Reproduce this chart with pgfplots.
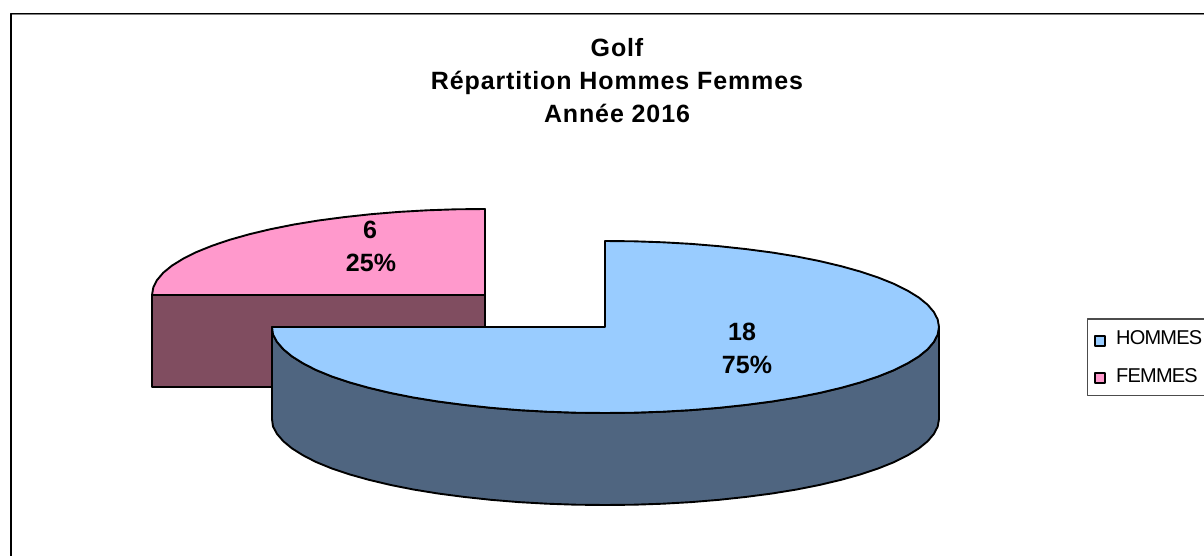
\documentclass[border=0pt]{standalone}
\usepackage{fontspec}
\setmainfont{Liberation Sans}
\usepackage{pgfplots}
\pgfplotsset{compat=1.18}
\definecolor{hommesTop}{HTML}{99CCFF}
\definecolor{hommesSide}{HTML}{4F6580}
\definecolor{femmesTop}{HTML}{FF99CC}
\definecolor{femmesSide}{HTML}{804D60}
\definecolor{frameGray}{HTML}{808080}
\begin{document}
\begin{tikzpicture}
\begin{axis}[
  scale only axis, width=1204pt, height=556pt,
  xmin=0, xmax=1204, ymin=0, ymax=556, y dir=reverse,
  hide axis, clip=true,
  every axis plot/.append style={line join=round},
]
% page background (also fixes the bounding box)
\addplot[fill=white, draw=none] coordinates {(0,0) (1204,0) (1204,556) (0,556)} -- cycle;
% frame
\addplot[draw=frameGray, line width=1pt] coordinates {(10.2,570) (10.2,14.8) (1220,14.8)};
\addplot[draw=black, line width=1.5pt] coordinates {(11.2,570) (11.2,13.5) (1220,13.5)};
% FEMMES side
\addplot[fill=femmesSide, draw=black, line width=1.9pt] coordinates {
 (152,295) (485,295) (485,387) (152,387)} -- cycle;
% FEMMES top
\addplot[fill=femmesTop, draw=black, line width=1.9pt] coordinates {
 (485,295) (485,209) (456,209.3) (427.2,210.3) (398.9,211.9) (371.1,214.2) (344.3,217.1)
 (318.5,220.5) (294,224.5) (270.9,229.1) (249.5,234.2) (230,239.7) (212.2,245.7)
 (196.6,252) (183.2,258.7) (172,265.6) (163.3,272.7) (157,280.1) (153.3,287.5) (152,295)} -- cycle;
% HOMMES side
\addplot[fill=hommesSide, draw=black, line width=1.9pt] coordinates {
 (939,327) (937.7,334.5) (933.9,341.9) (927.6,349.3) (918.9,356.4) (907.7,363.3) (894.3,370)
 (878.6,376.3) (860.8,382.3) (841.2,387.8) (819.7,392.9) (796.6,397.5) (772,401.5)
 (746.1,404.9) (719.2,407.8) (691.4,410.1) (663,411.7) (634.1,412.7) (605,413)
 (575.9,412.7) (547,411.7) (518.6,410.1) (490.8,407.8) (463.9,404.9) (438,401.5)
 (413.4,397.5) (390.3,392.9) (368.8,387.8) (349.2,382.3) (331.4,376.3) (316,370)
 (303,363.3) (292,356.4) (283.4,349.3) (277,341.9) (273,334.5) (272,327)
 (272,419) (273,426.5) (277,433.9) (283.4,441.3) (292,448.4) (303,455.3) (316,462)
 (331.4,468.3) (349.2,474.3) (368.8,479.8) (390.3,484.9) (413.4,489.5) (438,493.5)
 (463.9,496.9) (490.8,499.8) (518.6,502.1) (547,503.7) (575.9,504.7) (605,505)
 (634.1,504.7) (663,503.7) (691.4,502.1) (719.2,499.8) (746.1,496.9) (772,493.5)
 (796.6,489.5) (819.7,484.9) (841.2,479.8) (860.8,474.3) (878.6,468.3) (894.3,462)
 (907.7,455.3) (918.9,448.4) (927.6,441.3) (933.9,433.9) (937.7,426.5) (939,419)} -- cycle;
% HOMMES top
\addplot[fill=hommesTop, draw=black, line width=1.9pt] coordinates {
 (605,327) (605,241) (634.1,241.3) (663,242.3) (691.4,243.9) (719.2,246.2) (746.1,249.1)
 (772,252.5) (796.6,256.5) (819.7,261.1) (841.2,266.2) (860.8,271.7) (878.6,277.7)
 (894.3,284) (907.7,290.7) (918.9,297.6) (927.6,304.7) (933.9,312.1) (937.7,319.5) (939,327)
 (937.7,334.5) (933.9,341.9) (927.6,349.3) (918.9,356.4) (907.7,363.3) (894.3,370)
 (878.6,376.3) (860.8,382.3) (841.2,387.8) (819.7,392.9) (796.6,397.5) (772,401.5)
 (746.1,404.9) (719.2,407.8) (691.4,410.1) (663,411.7) (634.1,412.7) (605,413)
 (575.9,412.7) (547,411.7) (518.6,410.1) (490.8,407.8) (463.9,404.9) (438,401.5)
 (413.4,397.5) (390.3,392.9) (368.8,387.8) (349.2,382.3) (331.4,376.3) (316,370)
 (303,363.3) (292,356.4) (283.4,349.3) (277,341.9) (273,334.5) (272,327)} -- cycle;
% legend box
\addplot[draw=black!70, line width=1.6pt] coordinates {(1220,319) (1087.3,319) (1087.3,395.5) (1220,395.5)};
\addplot[fill=hommesTop, draw=black, line width=2pt] coordinates {(1095,336) (1105,336) (1105,346) (1095,346)} -- cycle;
\addplot[fill=femmesTop, draw=black, line width=2pt] coordinates {(1095,373) (1105,373) (1105,383) (1095,383)} -- cycle;
% texts
\node[align=center, font=\fontsize{25}{33}\selectfont\bfseries\addfontfeature{LetterSpace=3.5}, anchor=center] at (axis cs:617,80.5)
  {Golf\\Répartition Hommes Femmes\\Année 2016};
\node[font=\fontsize{25}{25}\selectfont\bfseries] at (axis cs:742,332) {18};
\node[font=\fontsize{25}{25}\selectfont\bfseries] at (axis cs:747,365) {75\%};
\node[font=\fontsize{25}{25}\selectfont\bfseries] at (axis cs:370,230) {6};
\node[font=\fontsize{25}{25}\selectfont\bfseries] at (axis cs:371,263) {25\%};
\node[anchor=west, inner sep=0pt, font=\fontsize{20}{20}\selectfont\addfontfeature{LetterSpace=-4}] at (axis cs:1116,338) {HOMMES};
\node[anchor=west, inner sep=0pt, font=\fontsize{20}{20}\selectfont\addfontfeature{LetterSpace=-4}] at (axis cs:1116,376) {FEMMES};
\end{axis}
\end{tikzpicture}
\end{document}
